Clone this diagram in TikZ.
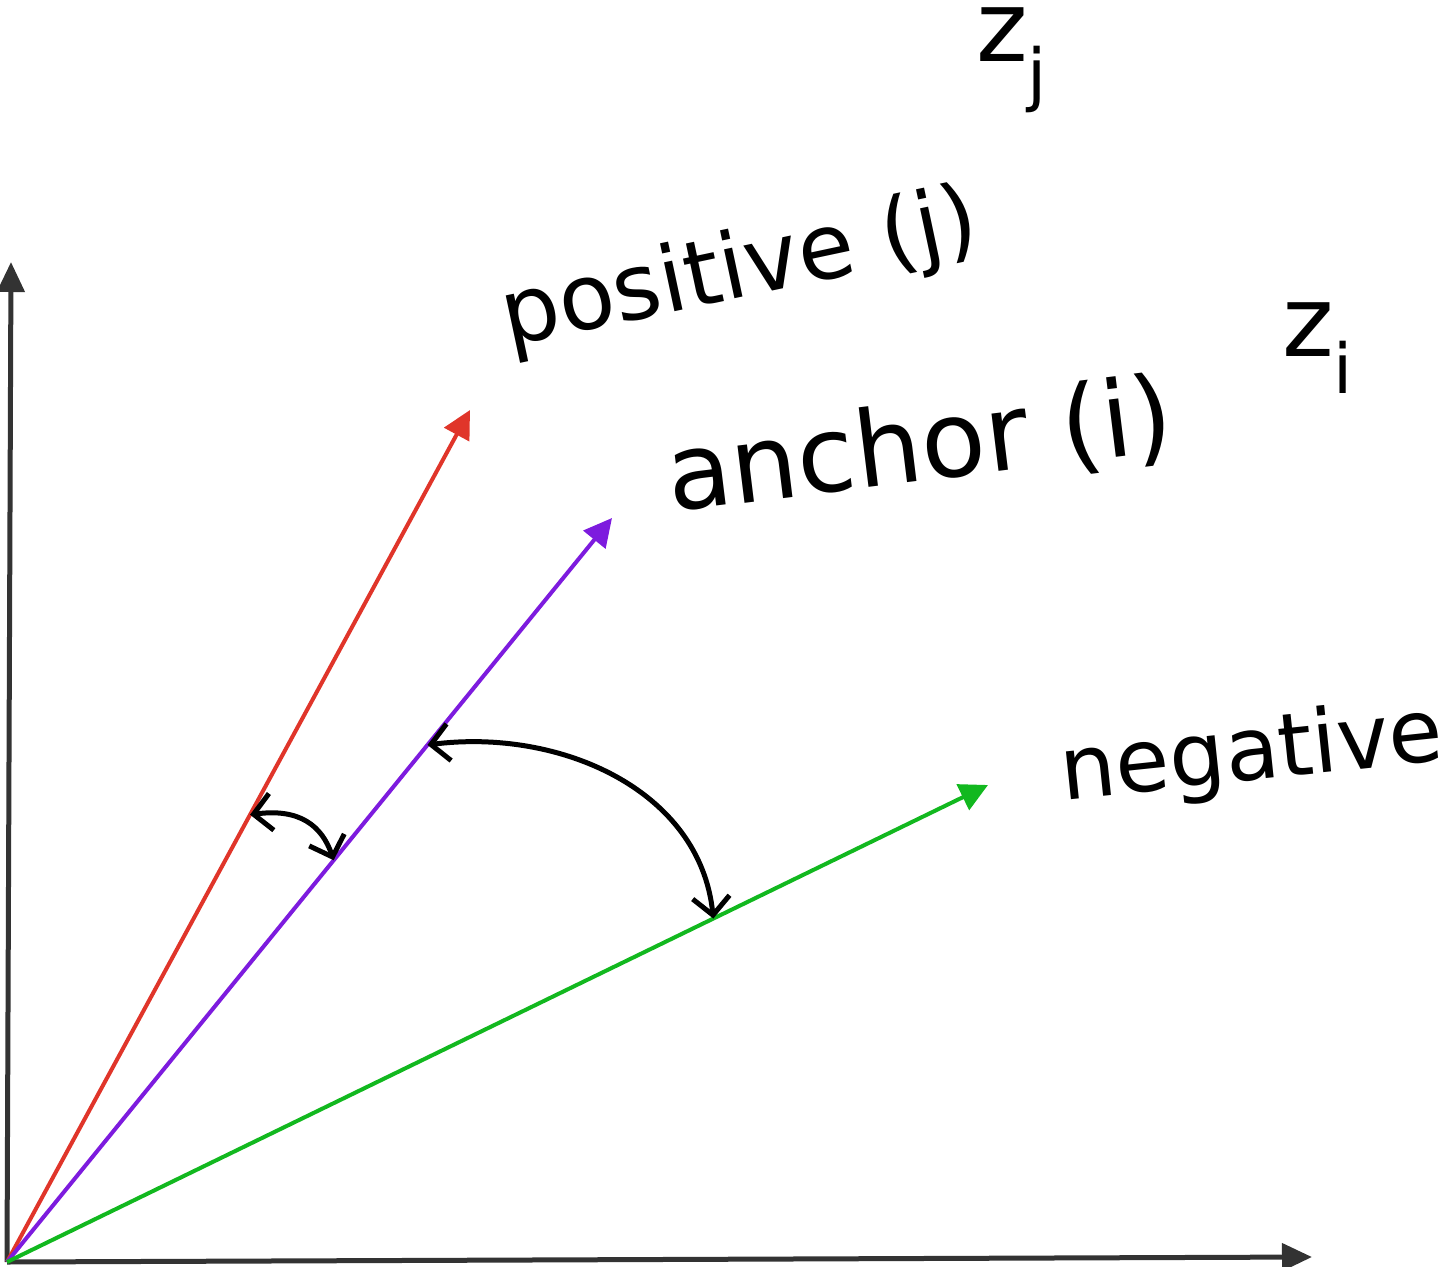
\documentclass[tikz,border=0pt]{standalone}
\usepackage{fontspec}
\setmainfont{DejaVu Sans}
\usepackage{tikz}
\usetikzlibrary{calc,arrows.meta}
\definecolor{axisgray}{HTML}{333333}
\definecolor{posred}{HTML}{E0352A}
\definecolor{ancpurple}{HTML}{7D1BDE}
\definecolor{neggreen}{HTML}{12B81F}

\begin{document}
\begin{tikzpicture}[x=0.2mm,y=-0.2mm,
    axis/.style={draw=axisgray,line width=1mm,-{Triangle[length=6mm,width=5.4mm]}},
    vec/.style={line width=0.8mm,-{Triangle[length=5.6mm,width=5.6mm]}},
    angarrow/.style={line width=1mm,{Straight Barb[length=3.6mm,width=7.4mm]}-{Straight Barb[length=3.6mm,width=7.4mm]}},
    lbl/.style={inner sep=0pt,font=\fontsize{52}{58}\selectfont}]
    \useasboundingbox (0,0) rectangle (1456,1267);

    % Початок координат і кінці осей
    \coordinate (O) at (7,1262);
    \coordinate (Y) at (11,262);
    \coordinate (X) at (1312,1257);

    % Кінці векторів
    \coordinate (P) at (470,410);
    \coordinate (A) at (612,518);
    \coordinate (N) at (988,785);

    % Осі
    \draw[axis] (O) -- (Y);
    \draw[axis] (O) -- (X);

    % Вектори
    \draw[vec,posred] (O) -- (P);
    \draw[vec,ancpurple] (O) -- (A);
    \draw[vec,neggreen] (O) -- (N);

    % Кути між векторами
    \coordinate (p1) at ($(O)!0.525!(P)$);
    \coordinate (a1) at ($(O)!0.54!(A)$);
    \coordinate (a2) at ($(O)!0.695!(A)$);
    \coordinate (n1) at ($(O)!0.72!(N)$);
    \draw[angarrow] (p1) .. controls (300,808) and (322,826) .. (a1);
    \draw[angarrow] (a2) .. controls (560,728) and (700,790) .. (n1);

    % Підписи
    \node[lbl,rotate=12] (posl) at (740,272) {positive (j)};
    \node[lbl,rotate=7,font=\fontsize{60}{66}\selectfont] (ancl) at (920,448) {anchor (i)};
    \node[lbl,rotate=6,font=\fontsize{50}{56}\selectfont] (negl) at (1252,756) {negative};
    \node[lbl,font=\fontsize{56}{62}\selectfont] (zj) at (1012,60) {z\textsubscript{j}};
    \node[lbl,font=\fontsize{56}{62}\selectfont] (zi) at (1318,348) {z\textsubscript{i}};
\end{tikzpicture}
\end{document}
